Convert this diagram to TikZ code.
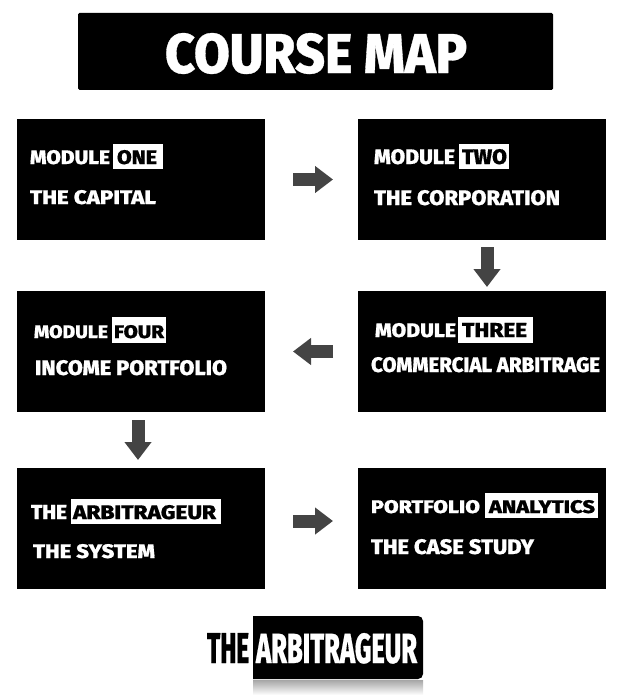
\documentclass[tikz,border=0pt]{standalone}
\usepackage{graphicx}
\usepackage{fontspec}
\setmainfont{Fira Sans ExtraBold}[FakeBold=0.6]
\usetikzlibrary{arrows.meta}
\definecolor{arrowgrey}{HTML}{444444}
\tikzset{
  panel/.style={fill=black,draw=none,inner sep=0pt,outer sep=0pt,anchor=north west},
  mark box/.style={fill=white,draw=none,inner sep=0pt,outer sep=0pt,anchor=north west},
  word/.style={inner sep=0pt,outer sep=0pt,anchor=north west},
  flow/.style={draw=arrowgrey,line width=13pt,-{Triangle[length=18pt,width=26pt,fill=arrowgrey]}}
}
% name, x0, x1, y0, y1, colour, text
\newcommand{\wordat}[7]{%
  \pgfmathsetlengthmacro{\wordw}{(#3-#2)*1pt}%
  \pgfmathsetlengthmacro{\wordh}{(#5-#4)*1pt}%
  \node[word,text=#6] (#1) at (#2,#4) {\resizebox{\wordw}{\wordh}{#7}};}
% name, x0, x1, y0, y1, style
\newcommand{\boxat}[6]{%
  \pgfmathsetlengthmacro{\wordw}{(#3-#2)*1pt}%
  \pgfmathsetlengthmacro{\wordh}{(#5-#4)*1pt}%
  \node[#6,minimum width=\wordw,minimum height=\wordh] (#1) at (#2,#4) {};}
\begin{document}
\begin{tikzpicture}[x=1pt,y=-1pt]
\path[use as bounding box] (0,0) rectangle (625,695);

% title
\boxat{title}{78}{553}{13}{90}{panel,rounded corners=1.5pt}
\wordat{titletext}{165}{467}{33}{73}{white}{COURSE MAP}

% panels
\boxat{m1}{17}{265}{119}{240}{panel}
\boxat{m2}{358}{606}{119}{240}{panel}
\boxat{m3}{358}{606}{291}{412}{panel}
\boxat{m4}{17}{265}{291}{412}{panel}
\boxat{m5}{17}{265}{468}{589}{panel}
\boxat{m6}{358}{606}{468}{589}{panel}

% connectors
\draw[flow,shorten <=28pt,shorten >=25pt] (m1.east) -- (m2.west);
\draw[flow,shorten <=7pt,shorten >=4pt] ([xshift=5pt]m2.south) -- ([xshift=5pt]m3.north);
\draw[flow,shorten <=25pt,shorten >=28pt] (m3.west) -- (m4.east);
\draw[flow,shorten <=8pt,shorten >=8pt] ([xshift=-3pt]m4.south) -- ([xshift=-3pt]m5.north);
\draw[flow,shorten <=28pt,shorten >=25pt] ([yshift=7.5pt]m5.east) -- ([yshift=7.5pt]m6.west);

% module one
\wordat{w1a}{30}{110}{150}{164}{white}{MODULE}
\boxat{h1}{113}{163}{144}{169}{mark box}
\wordat{w1b}{117}{157}{150}{164}{black}{ONE}
\wordat{w1c}{30}{156}{190}{204}{white}{THE CAPITAL}

% module two
\wordat{w2a}{374}{455}{149}{164}{white}{MODULE}
\boxat{h2}{459}{509}{144}{169}{mark box}
\wordat{w2b}{462}{507}{149}{164}{black}{TWO}
\wordat{w2c}{374}{560}{190}{205}{white}{THE CORPORATION}

% module three
\wordat{w3a}{375}{456}{323}{337}{white}{MODULE}
\boxat{h3}{458}{533}{317}{343}{mark box}
\wordat{w3b}{462}{527}{323}{337}{black}{THREE}
\wordat{w3c}{371}{600}{357}{372}{white}{COMMERCIAL ARBITRAGE}

% module four
\wordat{w4a}{34}{108}{325}{338}{white}{MODULE}
\boxat{h4}{112}{166}{317}{343}{mark box}
\wordat{w4b}{114}{164}{325}{338}{black}{FOUR}
\wordat{w4c}{35}{227}{360}{375}{white}{INCOME PORTFOLIO}

% the system
\wordat{w5a}{31}{67}{505}{519}{white}{THE}
\boxat{h5}{71}{221}{499}{524}{mark box}
\wordat{w5b}{73}{216}{505}{519}{black}{ARBITRAGEUR}
\wordat{w5c}{33}{155}{544}{558}{white}{THE SYSTEM}

% the case study
\wordat{w6a}{371}{480}{500}{513}{white}{PORTFOLIO}
\boxat{h6}{485}{598}{493}{518}{mark box}
\wordat{w6b}{489}{595}{500}{513}{black}{ANALYTICS}
\wordat{w6c}{371}{534}{539}{554}{white}{THE CASE STUDY}

% logo
\shade[top color=black!35,bottom color=white] (253,680) rectangle (423,695);
\fill[black] (253,616) [rounded corners=5pt] -- (423,616) -- (423,679) [sharp corners] -- (253,679) -- cycle;
\wordat{logoa}{207}{249}{633}{663}{black}{THE}
\wordat{logob}{256}{417}{633}{663}{white}{ARBITRAGEUR}
\end{tikzpicture}
\end{document}
